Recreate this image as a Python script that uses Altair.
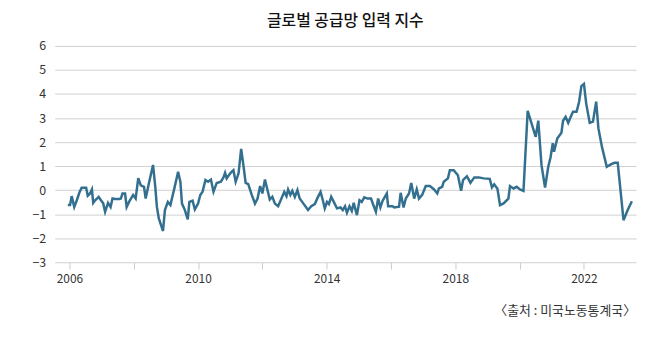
import altair as alt
import pandas as pd

TITLE = "글로벌 공급망 입력 지수"
SOURCE = "〈출처 : 미국노동통계국〉"

years = [
    2005.95, 2006.02, 2006.07, 2006.15, 2006.23, 2006.31, 2006.38, 2006.52, 2006.57, 2006.64,
    2006.70, 2006.74, 2006.80, 2006.91, 2006.98, 2007.05, 2007.11, 2007.20, 2007.28, 2007.34,
    2007.42, 2007.55, 2007.60, 2007.65, 2007.73, 2007.78, 2007.85, 2007.98, 2008.06, 2008.14,
    2008.22, 2008.32, 2008.37, 2008.47, 2008.60, 2008.67, 2008.72, 2008.78, 2008.91, 2008.97,
    2009.06, 2009.14, 2009.25, 2009.38, 2009.45, 2009.50, 2009.59, 2009.68, 2009.73, 2009.83,
    2009.90, 2010.00, 2010.07, 2010.14, 2010.23, 2010.31, 2010.40, 2010.48, 2010.58, 2010.71,
    2010.79, 2010.84, 2010.89, 2011.00, 2011.10, 2011.17, 2011.26, 2011.34, 2011.41, 2011.48,
    2011.56, 2011.67, 2011.77, 2011.85, 2011.93, 2012.00, 2012.08, 2012.16, 2012.23, 2012.31,
    2012.39, 2012.49, 2012.57, 2012.68, 2012.75, 2012.80, 2012.87, 2012.93, 2013.01, 2013.09,
    2013.16, 2013.26, 2013.42, 2013.52, 2013.63, 2013.73, 2013.81, 2013.88, 2013.94, 2014.01,
    2014.07, 2014.14, 2014.22, 2014.32, 2014.43, 2014.50, 2014.57, 2014.63, 2014.71, 2014.78,
    2014.84, 2014.94, 2015.02, 2015.09, 2015.17, 2015.27, 2015.38, 2015.45, 2015.53, 2015.60,
    2015.67, 2015.74, 2015.87, 2015.91, 2016.05, 2016.10, 2016.25, 2016.30, 2016.39, 2016.46,
    2016.56, 2016.63, 2016.72, 2016.80, 2016.87, 2016.97, 2017.08, 2017.21, 2017.34, 2017.44,
    2017.49, 2017.59, 2017.64, 2017.77, 2017.83, 2017.95, 2018.08, 2018.18, 2018.24, 2018.36,
    2018.47, 2018.59, 2018.73, 2018.88, 2019.07, 2019.14, 2019.21, 2019.31, 2019.39, 2019.50,
    2019.65, 2019.70, 2019.81, 2019.91, 2020.01, 2020.12, 2020.25, 2020.37, 2020.50, 2020.58,
    2020.68, 2020.79, 2020.89, 2020.96, 2021.03, 2021.07, 2021.17, 2021.30, 2021.35, 2021.43,
    2021.51, 2021.61, 2021.66, 2021.77, 2021.85, 2021.92, 2022.00, 2022.07, 2022.18, 2022.28,
    2022.38, 2022.45, 2022.56, 2022.71, 2022.85, 2022.95, 2023.05, 2023.23, 2023.36, 2023.49,
]

values = [
    -0.62, -0.62, -0.25, -0.70, -0.42, -0.10, 0.10, 0.10, -0.23, -0.14,
    0.03, -0.53, -0.42, -0.28, -0.42, -0.55, -0.90, -0.53, -0.70, -0.35,
    -0.37, -0.37, -0.35, -0.14, -0.14, -0.70, -0.50, -0.20, -0.35, 0.50,
    0.20, 0.14, -0.35, 0.28, 1.05, 0.14, -0.70, -1.18, -1.70, -0.83,
    -0.49, -0.62, 0.00, 0.76, 0.35, -0.56, -0.83, -1.22, -0.49, -0.44,
    -0.80, -0.56, -0.20, -0.07, 0.42, 0.35, 0.44, -0.07, 0.30, 0.35,
    0.53, 0.72, 0.49, 0.70, 0.83, 0.35, 0.70, 1.72, 1.04, 0.30,
    0.25, -0.20, -0.56, -0.35, 0.17, -0.14, 0.44, 0.00, -0.39, -0.28,
    -0.56, -0.67, -0.42, -0.07, -0.25, 0.03, -0.20, -0.03, -0.28, 0.00,
    -0.35, -0.53, -0.83, -0.67, -0.58, -0.28, -0.07, -0.42, -0.76, -0.49,
    -0.58, -0.28, -0.49, -0.76, -0.72, -0.83, -0.67, -0.94, -0.67, -0.86,
    -0.53, -1.04, -0.42, -0.49, -0.30, -0.35, -0.35, -0.62, -0.90, -0.35,
    -0.72, -0.44, -0.14, -0.67, -0.67, -0.72, -0.69, -0.11, -0.72, -0.35,
    -0.14, 0.30, -0.35, 0.03, -0.35, -0.20, 0.17, 0.17, 0.03, -0.14,
    0.07, 0.14, 0.35, 0.49, 0.83, 0.83, 0.62, -0.03, 0.42, 0.58,
    0.30, 0.53, 0.53, 0.49, 0.47, 0.11, 0.24, 0.06, -0.62, -0.55,
    -0.35, 0.17, 0.07, 0.14, 0.03, -0.03, 3.30, 2.78, 2.22, 2.89,
    1.04, 0.11, 0.97, 1.36, 1.95, 1.60, 2.15, 2.39, 2.89, 3.05,
    2.80, 3.12, 3.26, 3.26, 3.68, 4.33, 4.42, 3.60, 2.80, 2.85,
    3.68, 2.57, 1.80, 0.97, 1.08, 1.14, 1.14, -1.25, -0.83, -0.46,
]

x_ticks = [2006, 2008, 2010, 2012, 2014, 2016, 2018, 2020, 2022]
y_ticks = [-3, -2, -1, 0, 1, 2, 3, 4, 5, 6]

df = pd.DataFrame({"year": years, "value": values})

FONT = "Noto Sans CJK KR"
W, H = 586, 218

line = alt.Chart(df).mark_line(color="#33708f", strokeWidth=2.5, strokeJoin="miter").encode(
    x=alt.X(
        "year:Q",
        scale=alt.Scale(domain=[2005.54, 2023.62], nice=False, zero=False),
        axis=alt.Axis(
            values=x_ticks,
            format="d",
            labelExpr="datum.value % 4 == 2 ? datum.label : ''",
            grid=False,
            domain=False,
            tickColor="#cccccc",
            tickSize=7,
            labelPadding=4,
            labelFontSize=12,
            labelColor="#333333",
            labelFont=FONT,
            title=None,
        ),
    ),
    y=alt.Y(
        "value:Q",
        scale=alt.Scale(domain=[-3, 6], nice=False, zero=False),
        axis=alt.Axis(
            values=y_ticks,
            format="d",
            grid=True,
            gridColor="#d0d0d0",
            gridWidth=1,
            domain=False,
            ticks=False,
            labelPadding=9,
            labelFontSize=12.5,
            labelColor="#333333",
            labelFont=FONT,
            title=None,
        ),
    ),
)

source = alt.Chart(pd.DataFrame({"t": [SOURCE]})).mark_text(
    align="right", baseline="middle", fontSize=13, font=FONT, color="#333333"
).encode(x=alt.value(W), y=alt.value(267), text="t:N")

chart = (
    alt.layer(line, source)
    .properties(
        width=W,
        height=H,
        autosize="pad",
        padding={"left": 24, "top": 4, "right": 5, "bottom": 5},
        title=alt.TitleParams(
            TITLE, font=FONT, fontSize=16, fontWeight=500, color="#111111",
            anchor="middle", offset=11,
        ),
    )
    .configure_view(stroke=None)
)

chart.save("out.html", embed_options={"renderer": "svg", "actions": False})
